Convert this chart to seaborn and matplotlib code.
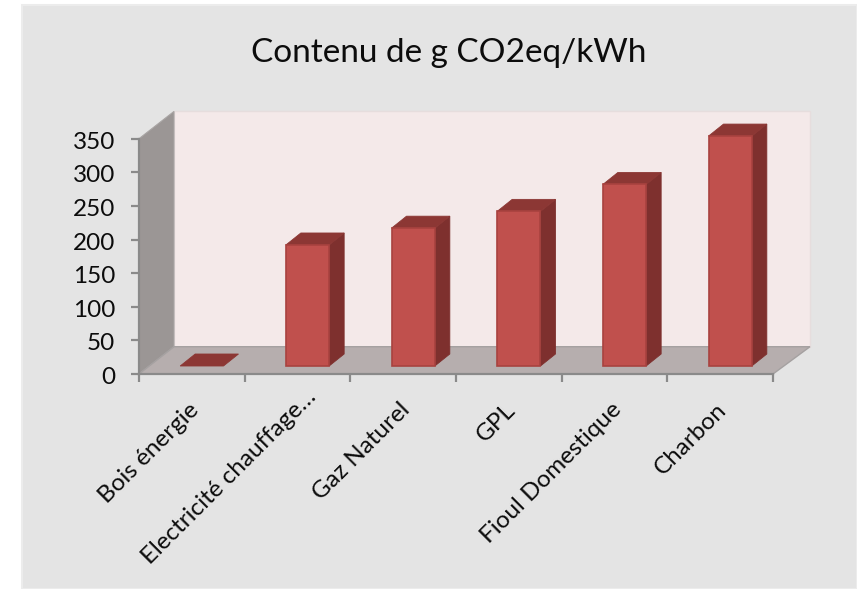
#!/usr/bin/env python3
"""Contenu de g CO2eq/kWh: bars faked in 3D on top of a seaborn barplot."""

import matplotlib
matplotlib.use("Agg")
import matplotlib.pyplot as plt
from matplotlib.patches import Polygon, Rectangle
from matplotlib.transforms import ScaledTranslation
import seaborn as sns

CATEGORIES = ["Bois énergie", "Electricité chauffage…", "Gaz Naturel", "GPL",
              "Fioul Domestique", "Charbon"]
VALUES = [0, 180, 205, 230, 270, 342]
Y_TICKS = [0, 50, 100, 150, 200, 250, 300, 350]

W, H = 857, 589
# Pixel layout of the plot box
LEFT, RIGHT, BOTTOM, TOP = 139, 773, 374, 138.7
WALL_DX, WALL_DY = 35, 27.3
BAR_SHIFT_X, BAR_SHIFT_Y = 10, 8
BAR_DX, BAR_DY = 15, 12

FRONT = "#c0504d"
EDGE = "#a8423f"
SIDE = "#7e302e"
TOP_FACE = "#8c3734"
AXIS = "#8a8a8a"
TEXT = "#0c0c0c"

sns.set_style("white")
plt.rcParams["font.family"] = ["Lato", "DejaVu Sans"]

fig = plt.figure(figsize=(W / 100, H / 100), dpi=100, facecolor="white")


def box(left, right, bottom, top):
    return [left / W, 1 - bottom / H, (right - left) / W, (bottom - top) / H]


# Backdrop, walls and floor in pixel coordinates
bg = fig.add_axes([0, 0, 1, 1])
bg.set_xlim(0, W)
bg.set_ylim(H, 0)
bg.axis("off")
bg.add_patch(Rectangle((22, 5), W - 22, H - 5, facecolor="#e4e4e4", edgecolor="#ececec", linewidth=1.5))
back_l, back_r = LEFT + WALL_DX, RIGHT + WALL_DX + 2
back_b, back_t = BOTTOM - WALL_DY, TOP - WALL_DY
bg.add_patch(Rectangle((back_l, back_t), back_r - back_l, back_b - back_t,
                       facecolor="#f4e9e9", edgecolor="#e6dddd", linewidth=1))
bg.add_patch(Polygon([(LEFT, BOTTOM), (back_l, back_b), (back_l, back_t), (LEFT, TOP)],
                     facecolor="#9b9695", edgecolor="#a9a5a4", linewidth=0.8))
bg.add_patch(Polygon([(LEFT, BOTTOM), (back_l, back_b), (back_r, back_b), (RIGHT, BOTTOM)],
                     facecolor="#b6aeae", edgecolor="#a5a1a1", linewidth=1))

# Axis lines and labels
ax = fig.add_axes(box(LEFT, RIGHT, BOTTOM, TOP), facecolor="none")
ax.set_xlim(-0.5, len(VALUES) - 0.5)
ax.set_ylim(0, 350)
sns.despine(ax=ax)
for side in ["left", "bottom"]:
    ax.spines[side].set_color(AXIS)
    ax.spines[side].set_linewidth(1.6)
ax.set_yticks(Y_TICKS)
ax.set_xticks(range(len(VALUES)))
ax.set_xticks([i - 0.5 for i in range(len(VALUES) + 1)], minor=True)
ax.set_xticklabels(CATEGORIES, rotation=45, ha="right", rotation_mode="anchor", fontsize=17.5, color=TEXT)
ax.tick_params(axis="x", which="major", bottom=False, length=0, pad=18)
ax.tick_params(axis="x", which="minor", bottom=True, length=6, width=1.6, color=AXIS)
ax.tick_params(axis="y", which="major", left=True, length=6, width=1.6, color=AXIS, labelsize=17.5,
               labelcolor=TEXT, pad=11)
for lab in ax.get_xticklabels():
    # the truncated label sits further up and right than the others
    shift_x, shift_y = (8, 13) if lab.get_text().endswith("…") else (-4, 0)
    lab.set_transform(lab.get_transform() + ScaledTranslation(shift_x / 100, shift_y / 100, fig.dpi_scale_trans))
for lab in ax.get_yticklabels():
    lab.set_transform(lab.get_transform() + ScaledTranslation(0, -1.5 / 100, fig.dpi_scale_trans))

# Bars sit a little inside the floor, so they get their own shifted axes
bar_ax = fig.add_axes(box(LEFT + BAR_SHIFT_X, RIGHT + BAR_SHIFT_X, BOTTOM - BAR_SHIFT_Y, TOP - BAR_SHIFT_Y),
                      facecolor="none")
sns.barplot(x=CATEGORIES, y=VALUES, ax=bar_ax, color=FRONT, saturation=1, width=0.41,
            edgecolor=EDGE, linewidth=1.2, zorder=5)
bar_ax.set_xlim(-0.5, len(VALUES) - 0.5)
bar_ax.set_ylim(0, 350)
bar_ax.axis("off")

dx = BAR_DX / ((RIGHT - LEFT) / len(VALUES))
dy = BAR_DY / ((BOTTOM - TOP) / 350)
for bar in bar_ax.patches:
    x0, x1 = bar.get_x(), bar.get_x() + bar.get_width()
    h = bar.get_height()
    if h > 0:
        bar_ax.add_patch(Polygon([(x1, 0), (x1 + dx, dy), (x1 + dx, h + dy), (x1, h)], facecolor=SIDE,
                                 edgecolor=SIDE, linewidth=0.6, clip_on=False, zorder=4))
    else:
        bar.set_visible(False)
    bar_ax.add_patch(Polygon([(x0, h), (x0 + dx, h + dy), (x1 + dx, h + dy), (x1, h)], facecolor=TOP_FACE,
                             edgecolor=TOP_FACE, linewidth=0.6, clip_on=False, zorder=4))
    bar.set_clip_on(False)

fig.text(448.5 / W, 1 - 53 / H, "Contenu de g CO2eq/kWh", ha="center", va="center", fontsize=24, color=TEXT)

fig.savefig("out.png", dpi=100, facecolor="white")
